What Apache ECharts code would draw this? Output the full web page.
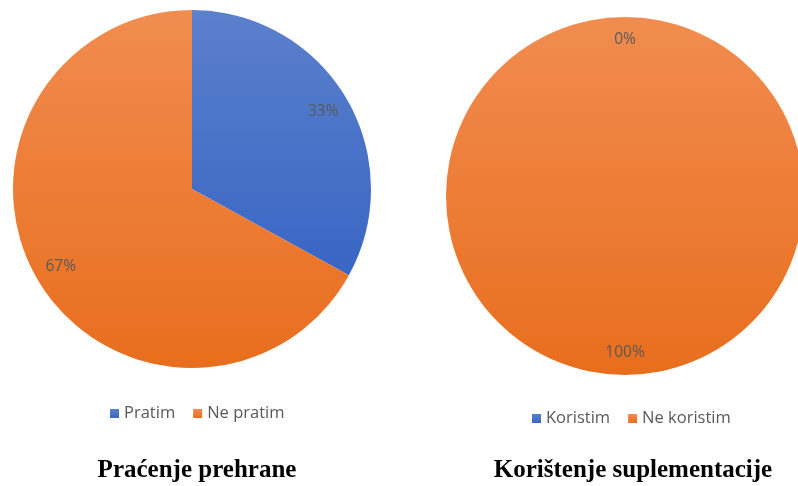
<!DOCTYPE html>
<html>
<head>
<meta charset="utf-8">
<script src="https://cdn.jsdelivr.net/npm/echarts@6/dist/echarts.min.js"></script>
<style>
  html, body { margin: 0; padding: 0; background: #fff; }
  #chart { width: 798px; height: 486px; }
</style>
</head>
<body>
<div id="chart"></div>
<script>
// podaci
const leftNames = ['Pratim', 'Ne pratim']
const leftValues = [33, 67]
const rightNames = ['Koristim', 'Ne koristim']
const rightValues = [0, 100]
const titles = ['Praćenje prehrane', 'Korištenje suplementacije']

const chart = echarts.init(document.getElementById('chart'))

// gradijent odozgo (svjetlije) prema dolje (tamnije)
const grad = (top, bottom) => new echarts.graphic.LinearGradient(0, 0, 0, 1, [
  { offset: 0, color: top },
  { offset: 1, color: bottom }
])
const fills = [grad('#5b80cc', '#3966c4'), grad('#f18c50', '#e86e1d')]

const makeData = (names, values, transparent) => names.map((n, i) => ({
  name: n,
  value: values[i],
  itemStyle: { color: transparent ? 'rgba(0,0,0,0)' : fills[i] }
}))

// vidljiva pita + prozirni prsten samo za oznake (da oznake budu blizu ruba)
const pieSeries = (names, values, center, inner) => [
  {
    type: 'pie',
    center: center,
    radius: 179,
    startAngle: 90,
    clockwise: true,
    silent: true,
    label: { show: false },
    labelLine: { show: false },
    data: makeData(names, values, false)
  },
  {
    type: 'pie',
    center: center,
    radius: [inner, 179],
    startAngle: 90,
    clockwise: true,
    silent: true,
    percentPrecision: 0,
    label: {
      show: true,
      position: 'inside',
      formatter: '{d}%',
      color: '#595959',
      fontSize: 15.5,
      fontFamily: 'Open Sans'
    },
    labelLine: { show: false },
    itemStyle: { color: 'rgba(0,0,0,0)' },
    data: makeData(names, values, true)
  }
]

const legendBase = {
  orient: 'horizontal',
  icon: 'rect',
  itemWidth: 9,
  itemHeight: 9,
  itemGap: 18,
  textStyle: { color: '#595959', fontSize: 16.5, fontFamily: 'Open Sans' }
}

const titleStyle = { fontFamily: 'Liberation Serif', fontWeight: 'bold', fontSize: 25, color: '#000' }

const option = {
  animation: false,
  color: ['#4472c4', '#ed7d31'],
  title: [
    { text: titles[0], left: 192, top: 453, textAlign: 'center', textStyle: titleStyle },
    { text: titles[1], left: 628, top: 453, textAlign: 'center', textStyle: titleStyle }
  ],
  legend: [
    Object.assign({}, legendBase, { data: leftNames, left: 105, top: 400 }),
    Object.assign({}, legendBase, { data: rightNames, left: 527, top: 405 })
  ],
  series: [
    ...pieSeries(leftNames, leftValues, [192, 189], 120),
    ...pieSeries(rightNames, rightValues, [625, 196], 128)
  ]
}

chart.setOption(option)
</script>
</body>
</html>
